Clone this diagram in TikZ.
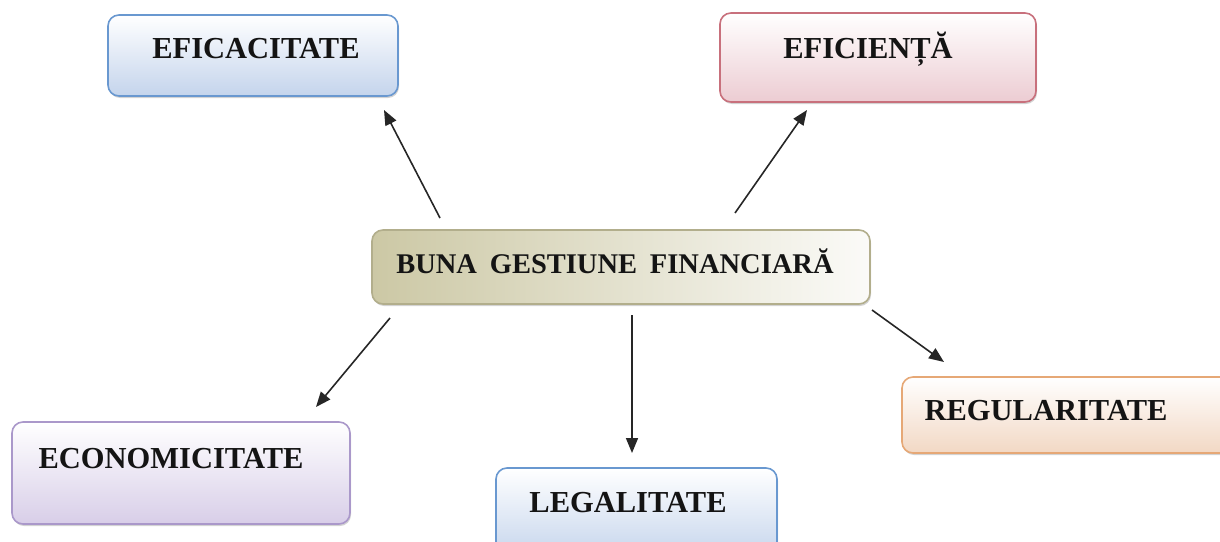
\documentclass[tikz,border=0pt]{standalone}
\usepackage{fontspec}
\setmainfont{Liberation Serif}
\usetikzlibrary{arrows.meta,shadows}
\definecolor{blueB}{RGB}{105,152,208}
\definecolor{blueF}{RGB}{196,212,236}
\definecolor{pinkB}{RGB}{200,112,124}
\definecolor{pinkF}{RGB}{236,204,210}
\definecolor{oliveB}{RGB}{178,174,140}
\definecolor{oliveF}{RGB}{204,200,165}
\definecolor{purpB}{RGB}{170,152,202}
\definecolor{purpF}{RGB}{216,206,232}
\definecolor{orB}{RGB}{230,168,118}
\definecolor{orF}{RGB}{242,216,196}
\tikzset{
  box/.style={draw=#1B, line width=1.6pt, rounded corners=11pt, inner sep=0pt,
    drop shadow={opacity=0.35, shadow xshift=1pt, shadow yshift=-2pt}},
  lbl/.style={anchor=base, inner sep=0pt, font=\fontsize{30.5}{36}\selectfont\bfseries, text=black!92},
  arr/.style={line width=1.6pt, draw=black!85, -{Triangle[length=15pt,width=12pt]}}
}
\begin{document}
\begin{tikzpicture}[x=1pt,y=-1pt]
\useasboundingbox (0,0) rectangle (1220,541);
% boxes
\path[box=blue, top color=white, bottom color=blueF] (108,15) rectangle (398,96) node[pos=0.5,inner sep=0pt] (eficacitate) {};
\path[box=pink, top color=white, bottom color=pinkF] (720,13) rectangle (1036,102) node[pos=0.5,inner sep=0pt] (eficienta) {};
\path[box=olive, left color=oliveF, right color=white!92!oliveF] (372,230) rectangle (870,304) node[pos=0.5,inner sep=0pt] (buna) {};
\path[box=purp, top color=white, bottom color=purpF] (12,422) rectangle (350,524) node[pos=0.5,inner sep=0pt] (econ) {};
\path[box=blue, top color=white, bottom color=blueF] (496,468) rectangle (777,560) node[pos=0.5,inner sep=0pt] (legal) {};
\path[box=or, top color=white, bottom color=orF] (902,377) rectangle (1240,453) node[pos=0.5,inner sep=0pt] (regul) {};
% labels
\node[lbl] (t1) at (256,58) {EFICACITATE};
\node[lbl] (t2) at (868,58) {EFICIENȚĂ};
\node[lbl, font=\fontsize{28.5}{34}\selectfont\bfseries] (t3) at (615,273) {BUNA\hspace{0.2em} GESTIUNE\hspace{0.2em} FINANCIARĂ};
\node[lbl] (t4) at (171,468) {ECONOMICITATE};
\node[lbl] (t5) at (628,512) {LEGALITATE};
\node[lbl] (t6) at (1046,420) {REGULARITATE};
% arrow endpoints
\coordinate (s1) at (440,218); \coordinate (e1) at (384,110);
\coordinate (s2) at (735,213); \coordinate (e2) at (807,110);
\coordinate (s3) at (390,318); \coordinate (e3) at (316,407);
\coordinate (s4) at (632,315); \coordinate (e4) at (632,453);
\coordinate (s5) at (872,310); \coordinate (e5) at (944,362);
\draw[arr] (s1) -- (e1);
\draw[arr] (s2) -- (e2);
\draw[arr] (s3) -- (e3);
\draw[arr] (s4) -- (e4);
\draw[arr] (s5) -- (e5);
\end{tikzpicture}
\end{document}
